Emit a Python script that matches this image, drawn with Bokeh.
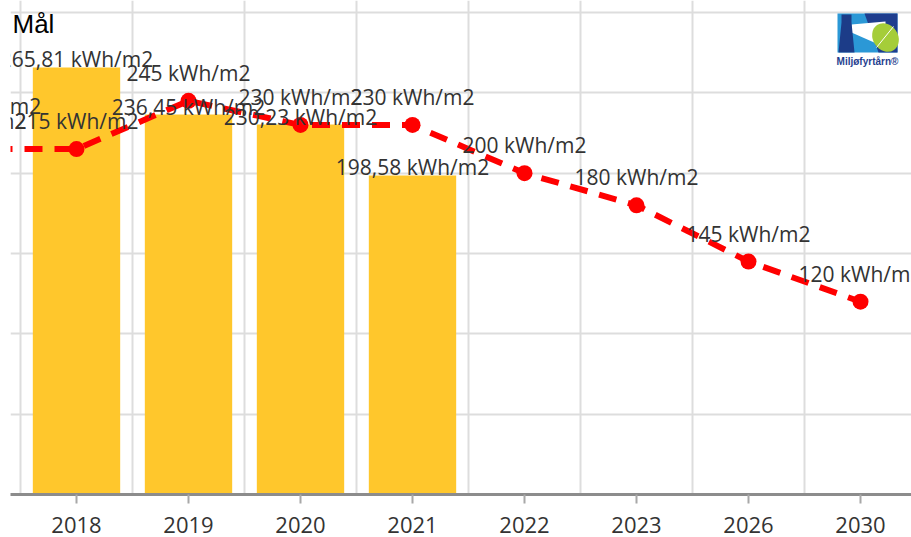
from bokeh.plotting import figure
from bokeh.models import FixedTicker, Range1d, ColumnDataSource, CDSView, IndexFilter
from bokeh.embed import file_html
from bokeh.resources import INLINE
from bokeh.core.properties import value

# ---------------- data ----------------
years = ["2017", "2018", "2019", "2020", "2021", "2022", "2023", "2026", "2030"]
consumption = [237.0, 265.81, 236.45, 230.23, 198.58]          # kWh/m2 (bars)
targets = [215, 215, 245, 230, 230, 200, 180, 145, 120]         # kWh/m2 (target line)
y_ticks = [0, 50, 100, 150, 200, 250, 300]
title_text = "Mål"
logo_text = "Miljøfyrtårn®"

# ---------------- geometry ----------------
FRAME_L = 10            # px of frame left
FRAME_W = 901
FRAME_H = 494           # frame from y=0 to y=494 (value 0)
SX = 112.0              # px per category
SY = (FRAME_H - 12) / 300.0
X0 = 1 - (76 - FRAME_L) / SX
X1 = X0 + FRAME_W / SX
Y1 = FRAME_H / SY
BAR_W = 0.78


def px2x(px):
    return X0 + (px - FRAME_L) / SX


def px2y(py):
    return (FRAME_H - py) / SY


idx = list(range(len(years)))

p = figure(frame_width=FRAME_W, frame_height=FRAME_H, output_backend="svg", toolbar_location=None,
           x_range=Range1d(X0, X1), y_range=Range1d(0, Y1),
           min_border_left=FRAME_L, min_border_right=0, min_border_top=0, min_border_bottom=0)
p.yaxis.visible = False
p.outline_line_color = None
p.background_fill_color = "white"
p.border_fill_color = "white"

# grids
p.xgrid.ticker = FixedTicker(ticks=[i - 0.5 for i in idx] + [len(idx) - 0.5])
p.ygrid.ticker = FixedTicker(ticks=y_ticks)
for g in (p.xgrid, p.ygrid):
    g.grid_line_color = "#dddddd"
    g.grid_line_width = 2

# x axis
p.xaxis.ticker = FixedTicker(ticks=idx)
p.xaxis.major_label_overrides = {i: y for i, y in zip(idx, years)}
p.xaxis.axis_line_color = "#8c8c8c"
p.xaxis.axis_line_width = 3
p.xaxis.major_tick_line_color = "#a8a8a8"
p.xaxis.major_tick_line_width = 2
p.xaxis.major_tick_out = 9
p.xaxis.major_tick_in = 0
p.xaxis.minor_tick_out = 0
p.xaxis.minor_tick_in = 0
p.xaxis.major_label_standoff = 13
p.xaxis.major_label_text_font = "Open Sans"
p.xaxis.major_label_text_font_size = "22px"
p.xaxis.major_label_text_color = "#333333"

# bars (only bars that fall inside the visible window are drawn)
bar_src = ColumnDataSource(dict(
    x=idx[:len(consumption)], top=consumption,
    lab=[("%.2f" % v).replace(".", ",") + " kWh/m2" for v in consumption]))
visible_bars = [i for i, xv in enumerate(bar_src.data["x"]) if xv + BAR_W / 2 > X0]
p.vbar(x="x", top="top", width=BAR_W, source=bar_src,
       view=CDSView(filter=IndexFilter(indices=visible_bars)),
       fill_color="#FFC72C", line_color=None)

# target line
line_src = ColumnDataSource(dict(
    x=idx, y=targets, lab=["%g kWh/m2" % v for v in targets]))
p.line(x="x", y="y", source=line_src, line_color="#FF0000", line_width=6, line_dash="18 12")
p.scatter(x="x", y="y", source=line_src, size=16, fill_color="#FF0000", line_color=None)

# data labels
lab_kw = dict(text_align="center", text_baseline="alphabetic",
              text_font=value("Open Sans"), text_font_size="21px", text_color="#333333")
p.text(x="x", y="top", text="lab", source=bar_src, y_offset=-8, **lab_kw)
p.text(x="x", y="y", text="lab", source=line_src, y_offset=-28, **lab_kw)

# title
p.text(x=[px2x(12)], y=[px2y(23)], text=[title_text], text_align="left",
       text_baseline="alphabetic", text_font=value("Liberation Sans"),
       text_font_size="26px", text_color="#000000")

# logo (decoration)
p.quad(left=[px2x(837)], right=[px2x(897)], top=[px2y(13)], bottom=[px2y(52)],
       fill_color="#2b98d6", line_color=None)
p.patch(x=[px2x(v) for v in (864, 897, 897, 878)],
        y=[px2y(v) for v in (13, 13, 52, 52)],
        fill_color="#1f3d8e", line_color=None)
p.patch(x=[px2x(v) for v in (851, 885, 885, 851)],
        y=[px2y(v) for v in (24, 21, 47, 32)],
        fill_color="#ffffff", line_color=None)
p.patch(x=[px2x(v) for v in (838, 841, 841, 851, 851, 854)],
        y=[px2y(v) for v in (52, 22, 14, 14, 22, 52)],
        fill_color="#1c3c88", line_color=None)
p.ellipse(x=[px2x(885)], y=[px2y(37)], width=25 / SX, height=30 / SY, angle=0.6,
          fill_color="#a5cd39", line_color=None)
p.segment(x0=[px2x(876)], y0=[px2y(47)], x1=[px2x(893)], y1=[px2y(26)],
          line_color="#ffffff", line_width=1)
p.text(x=[px2x(867)], y=[px2y(61)], text=[logo_text], text_align="center",
       text_baseline="alphabetic", text_font=value("Liberation Sans"),
       text_font_size="10px", text_font_style="bold", text_color="#1f3f8f")

open("out.html", "w").write(file_html(p, INLINE))
